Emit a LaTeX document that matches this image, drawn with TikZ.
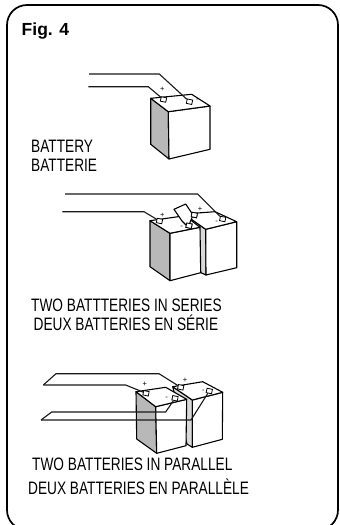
\documentclass[tikz,border=0pt]{standalone}
\usepackage{fontspec}
\setmainfont{Liberation Sans}
\newfontfamily\capfont[FakeStretch=0.76]{Liberation Sans}
\tikzset{
 frame/.style={draw=black,line width=1.7pt,rounded corners=20pt},
 wire/.style={draw=black!90,line width=1.1pt,line join=miter},
 bat/.style={draw=black,line width=1.1pt,fill=white,line join=round},
 side/.style={draw=black,line width=1.1pt,fill=black!28,line join=round},
 strip/.style={draw=black,line width=1.1pt,fill=black!15,line join=round},
 term/.style={draw=black,line width=0.8pt,fill=white,inner sep=0pt,minimum width=5.5pt,minimum height=4.5pt,rotate=-12},
 captext/.style={anchor=west,inner sep=0pt,font=\capfont\fontsize{18}{18}\selectfont},
 sign/.style={inner sep=0pt,font=\fontsize{7.5}{7.5}\selectfont}
}
\begin{document}
\begin{tikzpicture}[x=1pt,y=-1pt]
\useasboundingbox (0,0) rectangle (340,525);
\fill[white] (0,0) rectangle (340,525);
\draw[frame] (7,5) rectangle (338,530);
\node[anchor=west,inner sep=0pt,font=\fontsize{17.5}{17.5}\selectfont\bfseries] (figlabel) at (21.5,31.5) {Fig. 4};
% single
\draw[side] (150.7,98.3) -- (168.3,111.7) -- (169,159) -- (150.7,144.3) -- cycle;
\draw[bat] (168.3,111.7) -- (210,106) -- (210,149.3) -- (169,159) -- cycle;
\draw[bat] (150.7,98.3) -- (191.7,94.3) -- (210,106) -- (168.3,111.7) -- cycle;
\node[term] (a1) at (163.5,99.5) {};
\node[term] (a2) at (189.5,101.7) {};
\coordinate (a1w) at (148.3,86.7);
\coordinate (a2w) at (159.3,74);
\coordinate (a1s) at (88.3,86.7);
\coordinate (a2s) at (89,74);
\draw[wire] (a2s) -- (a2w) -- (a2);
\draw[wire] (a1s) -- (a1w) -- (a1);
\node[sign] (p1) at (162.3,89) {+};
\node[sign] (m1) at (197.3,100.7) {-};
\node[captext] (t1) at (31,146) {BATTERY};
\node[captext] (t2) at (31,165) {BATTERIE};
% series
\draw[strip] (186.7,216) -- (205.7,229.3) -- (206,275) -- (201,272.7) -- cycle;
\draw[bat] (205.7,229.3) -- (236.7,221.7) -- (236.7,267.7) -- (206,275) -- cycle;
\draw[bat] (186.7,216) -- (193.3,213.3) -- (215,211.7) -- (236.7,221.7) -- (205.7,229.3) -- cycle;
\draw[side] (150,220.7) -- (170,233.3) -- (170,280.7) -- (150,266.7) -- cycle;
\draw[bat] (170,233.3) -- (200,227.3) -- (200.7,272.7) -- (170,280.7) -- cycle;
\draw[bat] (150,220.7) -- (185,215.7) -- (200,227.3) -- (170,233.3) -- cycle;
\node[term] (b1) at (159.5,221) {};
\node[term] (b2) at (189,225.7) {};
\node[term] (b3) at (194.3,215) {};
\node[term] (b4) at (222.7,219) {};
\coordinate (b4s) at (65,194);
\coordinate (b4w) at (197.7,194);
\coordinate (b1s) at (62.3,211.7);
\coordinate (b1w) at (144,211.7);
\draw[wire] (b4s) -- (b4w) -- (b4);
\draw[wire] (b1s) -- (b1w) -- (b1);
\draw[bat] (174,209.3) -- (185.7,204) -- (193,215) -- (189,225) -- (186,225) -- (182,221) -- cycle;
\node[term] (b2b) at (189,225.7) {};
\node[term] (b3b) at (194.3,215) {};
\node[sign] (p2) at (162.3,215) {+};
\node[sign] (m2) at (181.7,227.3) {-};
\node[sign] (p3) at (200,209.3) {+};
\node[sign] (m3) at (216.7,222.3) {-};
\node[captext] (t3) at (31,305) {TWO BATTTERIES IN SERIES};
\node[captext] (t4) at (33.5,323) {DEUX BATTERIES EN SÉRIE};
% parallel
\draw[strip] (172.7,386.7) -- (192.3,400) -- (192.3,447.3) -- (187,444) -- cycle;
\draw[bat] (192.3,400) -- (222.7,392.3) -- (222.3,439.3) -- (192.3,447.3) -- cycle;
\draw[bat] (172.7,386.7) -- (202.7,381.7) -- (222.7,392.3) -- (192.3,400) -- cycle;
\draw[side] (136,391.7) -- (155.7,406.7) -- (156.7,453.3) -- (136.7,439) -- cycle;
\draw[bat] (155.7,406.7) -- (186.7,399.3) -- (186,445.7) -- (156.7,453.3) -- cycle;
\draw[bat] (136,391.7) -- (165.7,387.3) -- (186.7,399.3) -- (155.7,406.7) -- cycle;
\node[term] (c1) at (146,393.3) {};
\node[term] (c2) at (175,398.3) {};
\node[term] (c3) at (180.7,387.3) {};
\node[term] (c4) at (209.3,391) {};
\coordinate (cu) at (43.3,385);
\coordinate (cl) at (41,420);
\draw[wire] (cu) -- (56,373.7) -- (159,373.7) -- (c3);
\draw[wire] (cu) -- (125.7,385) -- (c1);
\draw[wire] (cl) -- (51.7,412) -- (165.7,412) -- (c2);
\draw[wire] (cl) -- (191,420) -- (c4);
\node[sign] (p4) at (144.7,384) {+};
\node[sign] (m4) at (166.7,398.3) {-};
\node[sign] (p5) at (185,380) {+};
\node[sign] (m5) at (203.3,391) {-};
\node[captext] (t5) at (32,464) {TWO BATTERIES IN PARALLEL};
\node[captext] (t6) at (28,486.5) {DEUX BATTERIES EN PARALLÈLE};
\end{tikzpicture}
\end{document}
